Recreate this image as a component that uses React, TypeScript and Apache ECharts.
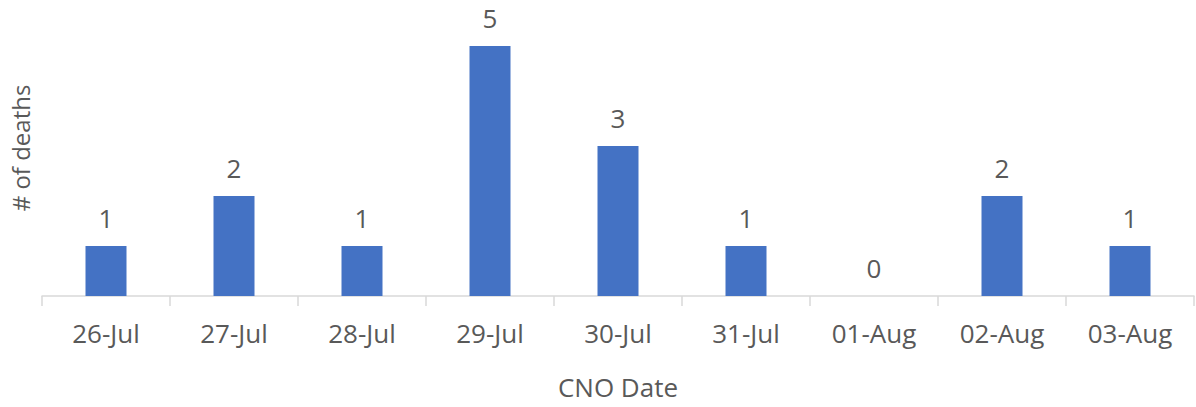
import React, { useEffect, useRef } from "react";
import * as echarts from "echarts";

const categories = ["26-Jul", "27-Jul", "28-Jul", "29-Jul", "30-Jul", "31-Jul", "01-Aug", "02-Aug", "03-Aug"];
const deaths = [1, 2, 1, 5, 3, 1, 0, 2, 1];
const xTitle = "CNO Date";
const yTitle = "# of deaths";

const FONT = "'Open Sans', 'Noto Sans', sans-serif";
const TEXT = "#595959";

export default function App() {
  const ref = useRef<HTMLDivElement>(null);
  useEffect(() => {
    if (!ref.current) return;
    const chart = echarts.init(ref.current, null, { renderer: "svg" });
    chart.setOption({
      animation: false,
      textStyle: { fontFamily: FONT },
      grid: { left: 42, right: 2, top: 0, bottom: 111, containLabel: false, outerBoundsMode: "none" },
      xAxis: {
        type: "category",
        data: categories,
        boundaryGap: true,
        axisLine: { show: true, lineStyle: { color: "#d9d9d9", width: 1.5 } },
        axisTick: { show: true, length: 10, alignWithLabel: false, lineStyle: { color: "#d9d9d9", width: 1.5 } },
        axisLabel: { color: TEXT, fontSize: 26, fontFamily: FONT, margin: 24, interval: 0 },
        name: xTitle,
        nameLocation: "middle",
        nameGap: 78,
        nameTextStyle: { color: TEXT, fontSize: 26, fontFamily: FONT, lineHeight: 26 },
      },
      yAxis: {
        type: "value",
        min: 0,
        max: 5.92,
        axisLine: { show: false },
        axisTick: { show: false },
        axisLabel: { show: false },
        splitLine: { show: false },
        name: yTitle,
        nameLocation: "middle",
        nameRotate: 90,
        nameGap: 10,
        nameTextStyle: { color: TEXT, fontSize: 24, fontFamily: FONT },
      },
      series: [
        {
          type: "bar",
          data: deaths,
          barWidth: 41,
          itemStyle: { color: "#4472C4" },
          label: {
            show: true,
            position: "top",
            distance: 15,
            color: TEXT,
            fontSize: 26,
            fontFamily: FONT,
          },
        },
      ],
    });
    return () => chart.dispose();
  }, []);
  return (
    <div
      ref={ref}
      style={{ position: "fixed", left: 0, top: 0, width: 1196, height: 407, background: "#fff" }}
    />
  );
}
